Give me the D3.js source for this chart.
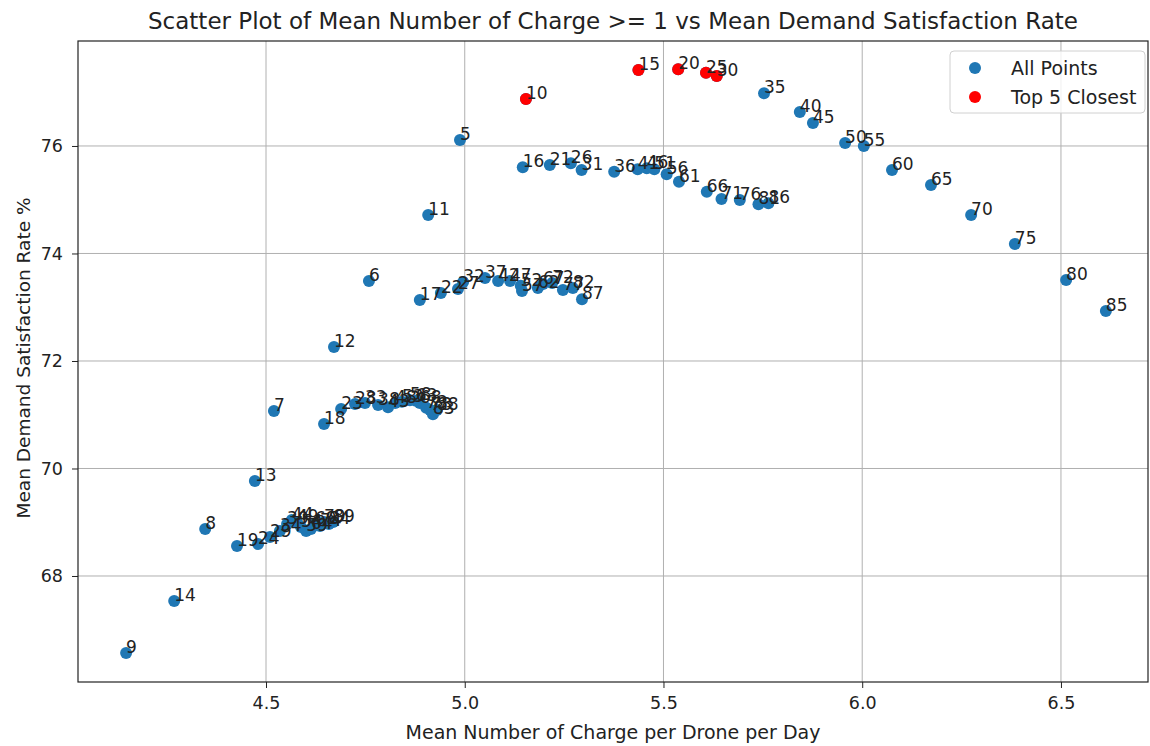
<!DOCTYPE html>
<html>
<head>
<meta charset="utf-8">
<script src="https://cdn.jsdelivr.net/npm/d3@7"></script>
<style>
  body { margin: 0; background: #fff; }
  text { font-family: "DejaVu Sans", sans-serif; fill: #222; }
</style>
</head>
<body>
<script>
// point labels (run ids) and their mean values
let labels = [5,6,7,8,9,10,11,12,13,14,15,16,17,18,19,20,21,22,23,24,25,26,27,28,29,
  30,31,32,33,34,35,36,37,38,39,40,41,42,43,44,45,46,47,48,49,50,51,52,53,54,
  55,56,57,58,59,60,61,62,63,64,65,66,67,68,69,70,71,72,73,74,75,76,77,78,79,
  80,81,82,83,84,85,86,87,88,89];

let xValues = [4.988,4.759,4.520,4.347,4.148, 5.154,4.908,4.671,4.472,4.269,
  5.437,5.146,4.887,4.646,4.427, 5.537,5.214,4.940,4.689,4.480,
  5.607,5.267,4.983,4.724,4.510, 5.634,5.294,4.996,4.749,4.535,
  5.753,5.376,5.051,4.782,4.553, 5.843,5.435,5.084,4.807,4.565,
  5.876,5.458,5.114,4.825,4.578, 5.957,5.477,5.141,4.842,4.588,
  6.004,5.508,5.144,4.862,4.601, 6.075,5.539,5.184,4.877,4.613,
  6.173,5.609,5.197,4.887,4.623, 6.274,5.646,5.220,4.903,4.636,
  6.384,5.692,5.247,4.913,4.646, 6.513,5.739,5.272,4.920,4.658,
  6.613,5.764,5.295,4.930,4.669];

let yValues = [76.11,73.49,71.07,68.874,66.567, 76.874,74.716,72.26,69.767,67.535,
  77.414,75.604,73.135,70.828,68.558, 77.427,75.646,73.265,71.107,68.595,
  77.364,75.678,73.34,71.20,68.726, 77.302,75.553,73.47,71.22,68.837,
  76.98,75.522,73.544,71.18,68.967, 76.633,75.566,73.488,71.14,69.042,
  76.428,75.585,73.49,71.22,69.005, 76.056,75.566,73.40,71.24,68.912,
  76.0,75.473,73.30,71.27,68.837, 75.553,75.336,73.36,71.26,68.874,
  75.274,75.150,73.43,71.22,68.967, 74.716,75.014,73.45,71.13,68.93,
  74.177,74.995,73.32,71.09,69.005, 73.507,74.915,73.36,71.01,68.967,
  72.93,74.934,73.15,71.09,69.005];

let top5 = [10,15,20,25,30];

let xTicks = [4.5,5.0,5.5,6.0,6.5];
let yTicks = [68,70,72,74,76];

let W = 1150, H = 746;
let mLeft = 78, mRight = 1148, mTop = 41, mBottom = 682;

let points = labels.map((l,i) => ({label: l, x: xValues[i], y: yValues[i]}));

let svg = d3.select('body').append('svg')
      .attr('width',W)
      .attr('height',H);

let x = d3.scaleLinear().domain([4.027,6.719]).range([mLeft,mRight]);
let y = d3.scaleLinear().domain([66.028,77.953]).range([mBottom,mTop]);

// grid
svg.append('g').selectAll('line').data(xTicks).join('line')
  .attr('x1',d => x(d)).attr('x2',d => x(d))
  .attr('y1',mTop).attr('y2',mBottom)
  .style('stroke','#b0b0b0').style('stroke-width',1);
svg.append('g').selectAll('line').data(yTicks).join('line')
  .attr('y1',d => y(d)).attr('y2',d => y(d))
  .attr('x1',mLeft).attr('x2',mRight)
  .style('stroke','#b0b0b0').style('stroke-width',1);

// axes
let xAxis = svg.append('g')
  .attr('transform',`translate(0,${mBottom})`)
  .call(d3.axisBottom(x).tickValues(xTicks).tickFormat(d3.format('.1f')).tickSize(6).tickPadding(9));
let yAxis = svg.append('g')
  .attr('transform',`translate(${mLeft},0)`)
  .call(d3.axisLeft(y).tickValues(yTicks).tickFormat(d3.format('d')).tickSize(6).tickPadding(9));
[xAxis,yAxis].forEach(a => {
  a.select('.domain').remove();
  a.selectAll('text').style('font-size','17.5px').style('fill','#222');
  a.selectAll('line').style('stroke','#222');
});

// frame
svg.append('rect')
  .attr('x',mLeft).attr('y',mTop)
  .attr('width',mRight-mLeft).attr('height',mBottom-mTop)
  .style('fill','none').style('stroke','#222').style('stroke-width',1.2);

// points
svg.append('g').selectAll('circle').data(points).join('circle')
  .attr('cx',d => x(d.x)).attr('cy',d => y(d.y)).attr('r',6)
  .style('fill','#1f77b4');
svg.append('g').selectAll('circle').data(points.filter(d => top5.includes(d.label))).join('circle')
  .attr('cx',d => x(d.x)).attr('cy',d => y(d.y)).attr('r',6)
  .style('fill','#ff0000');

// annotations
svg.append('g').selectAll('text').data(points).join('text')
  .attr('x',d => x(d.x)).attr('y',d => y(d.y))
  .style('font-size','17px')
  .text(d => d.label);

// title and axis labels
svg.append('text')
  .attr('x',(mLeft+mRight)/2).attr('y',29)
  .attr('text-anchor','middle')
  .style('font-size','23px')
  .text('Scatter Plot of Mean Number of Charge >= 1 vs Mean Demand Satisfaction Rate');
svg.append('text')
  .attr('x',(mLeft+mRight)/2).attr('y',739)
  .attr('text-anchor','middle')
  .style('font-size','19px')
  .text('Mean Number of Charge per Drone per Day');
svg.append('text')
  .attr('transform',`translate(30,358) rotate(-90)`)
  .attr('text-anchor','middle')
  .style('font-size','18.5px')
  .text('Mean Demand Satisfaction Rate %');

// legend
let lg = svg.append('g').attr('transform','translate(950,51)');
lg.append('rect')
  .attr('width',195).attr('height',62).attr('rx',4)
  .style('fill','#fff').style('fill-opacity',0.8)
  .style('stroke','#d0d0d0');
let legendItems = [{name:'All Points', color:'#1f77b4'},{name:'Top 5 Closest', color:'#ff0000'}];
legendItems.forEach((d,i) => {
  lg.append('circle').attr('cx',25).attr('cy',17+i*29).attr('r',6).style('fill',d.color);
  lg.append('text').attr('x',61).attr('y',24+i*29).style('font-size','19px').text(d.name);
});
</script>
</body>
</html>
